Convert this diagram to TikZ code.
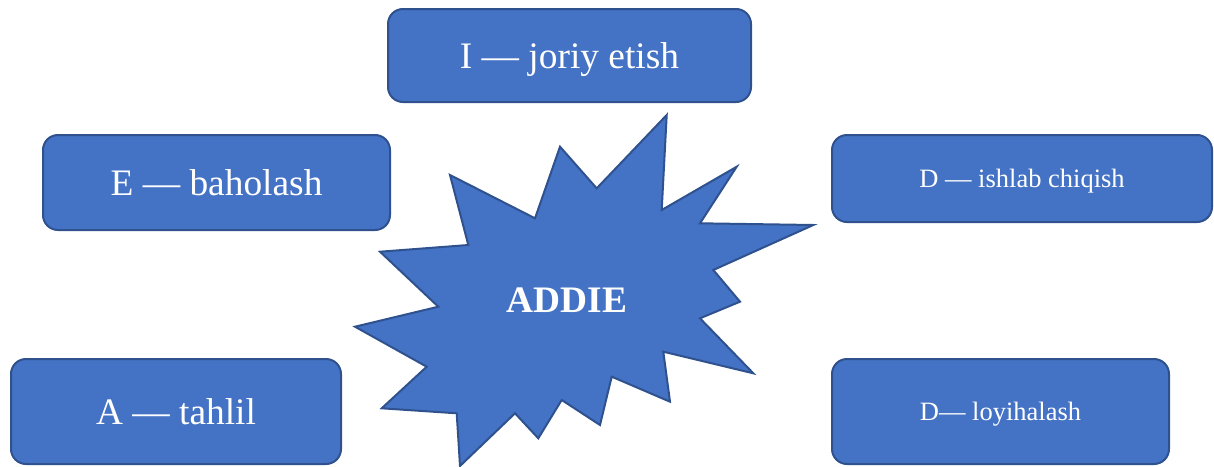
\documentclass[tikz,border=0pt]{standalone}
\usepackage{fontspec}
\setmainfont{Liberation Serif}
\usetikzlibrary{positioning}

\definecolor{boxblue}{HTML}{4472C4}
\definecolor{edgeblue}{HTML}{2F528F}

\tikzset{
    stagebox/.style={draw=edgeblue, fill=boxblue, line width=2pt, rounded corners=15pt,
                     inner sep=0pt, text depth=0pt, text=white, font=\fontsize{37.4}{42}\selectfont},
    smallbox/.style={stagebox, font=\fontsize{26.5}{30}\selectfont}
}

\begin{document}
\begin{tikzpicture}[x=1pt, y=-1pt]
    \useasboundingbox (0,0) rectangle (1214,466);

    \node (Joriy) [stagebox, minimum width=363pt, minimum height=93pt] at (569.5,55.5) {I — joriy etish};
    \node (Baholash) [stagebox, minimum width=347pt, minimum height=95pt] at (216.5,182.5) {E — baholash};
    \node (Tahlil) [stagebox, minimum width=330pt, minimum height=105pt] at (176,411.5) {A — tahlil};
    \node (Ishlab) [smallbox, minimum width=380pt, minimum height=87pt] at (1022,178.5) {D — ishlab chiqish};
    \node (Loyiha) [smallbox, minimum width=337pt, minimum height=105pt] at (1000.5,411.5) {D— loyihalash};

    % the star
    \draw[draw=edgeblue, fill=boxblue, line width=2pt, line join=miter]
        (666.7,115) -- (661.7,210) -- (736.7,166.7) -- (700,223.3) -- (813.3,225)
        -- (713.3,270) -- (740,301.7) -- (700,318.3) -- (753.3,373.3) -- (663.3,351.7)
        -- (670,401.7) -- (611.7,376.7) -- (600,425) -- (561.7,400) -- (538.3,438.3)
        -- (515,413.3) -- (460,466) -- (456.7,413.3) -- (381.7,408.3) -- (426.7,366.7)
        -- (355,326.7) -- (438.3,306.7) -- (380,251.7) -- (468.3,245) -- (450,175)
        -- (535,218.3) -- (560,146.7) -- (596.7,188.3) -- cycle;
    \node (Addie) [text=white, font=\fontsize{37.4}{42}\selectfont\bfseries] at (567,300) {ADDIE};
\end{tikzpicture}
\end{document}
